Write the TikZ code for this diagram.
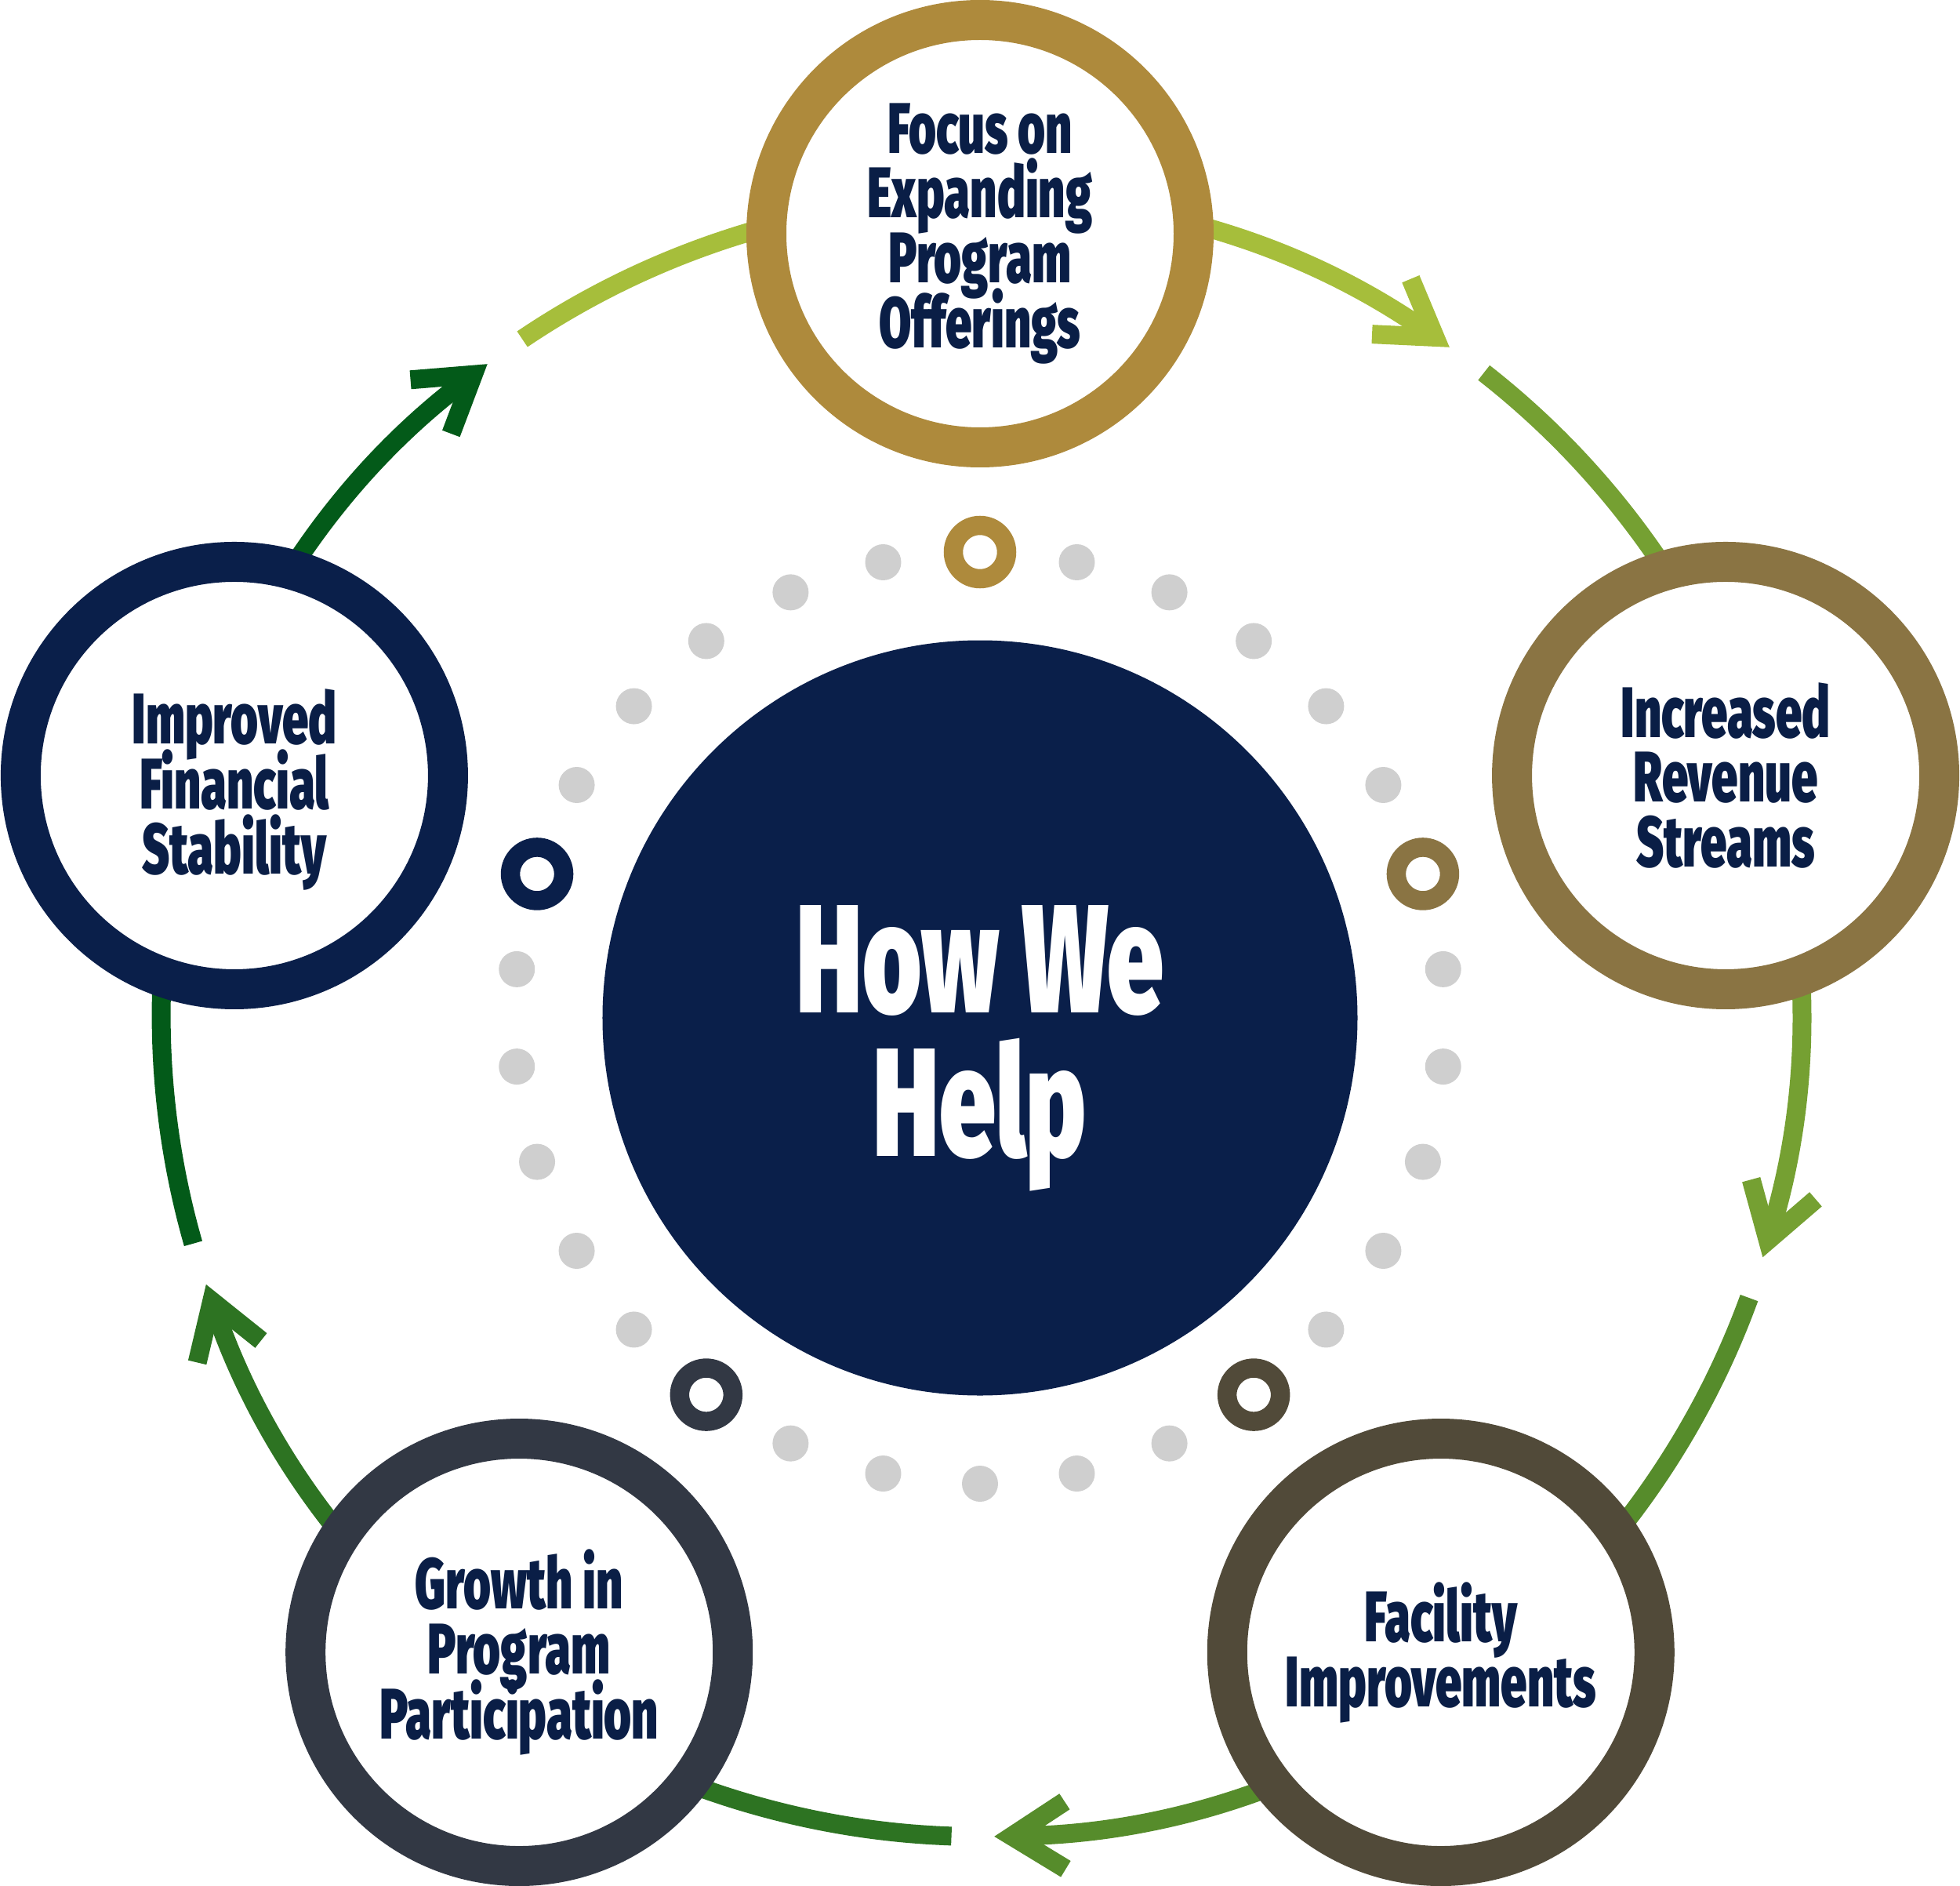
\documentclass[tikz,border=0pt]{standalone}
\usepackage{fontspec}
\setmainfont{Fira Sans}[UprightFont=* Black, FakeStretch=0.655]
\usetikzlibrary{arrows.meta}

\definecolor{navy}{HTML}{0A1F4A}
\definecolor{inkblue}{HTML}{0A1E46}
\definecolor{gold}{HTML}{AE8A3C}
\definecolor{bronze}{HTML}{8A7443}
\definecolor{umber}{HTML}{514A39}
\definecolor{slate}{HTML}{323844}
\definecolor{dotgray}{HTML}{CFCFCF}
\definecolor{greenA}{HTML}{A6BE3B}
\definecolor{greenB}{HTML}{75A032}
\definecolor{greenC}{HTML}{568C2B}
\definecolor{greenD}{HTML}{2D7322}
\definecolor{greenE}{HTML}{035A19}

\newcommand\tightlines{\lineskiplimit=-100pt\relax}

\begin{document}
\begin{tikzpicture}[main/.style = {circle, line width=0.51cm, fill=white, minimum size=5.45cm, inner sep=0pt, align=center, text=inkblue, font=\fontsize{26}{23.6}\selectfont\tightlines},
    flow/.style = {line width=0.24cm, -{Straight Barb[length=0.68cm, width=0.86cm, sharp]}},
    mini/.style = {line width=0.245cm}]
    \useasboundingbox (-12.5,-11.06) rectangle (12.5,12.98);
    % arcs between the steps
    \foreach \a/\c in {90/greenA, 18/greenB, -54/greenC, -126/greenD, 162/greenE}
        \draw[flow, \c] (\a+34:10.44) arc[start angle=\a+34, delta angle=-69, radius=10.44];
    % dotted ring
    \foreach \s in {18,90,162,234,306}
        \foreach \d in {12,24,36,48,60}
            \fill[dotgray] (\s+\d:5.94) circle (0.23);
    \foreach \a/\c in {90/gold, 18/bronze, -54/umber, -126/slate, 162/navy}
        \draw[mini, \c] (\a:5.94) circle (0.34);
    \node[circle, fill=navy, minimum size=9.63cm] (0) at (0,0) {};
    \node[text=white, align=center, font=\fontsize{56}{52}\selectfont\tightlines] (0t) at (0,-0.39) {How We\\Help};
    \node[main, draw=gold] (1) at (90:10) {Focus on\\Expanding\\Program\\Offerings};
    \node[main, draw=bronze] (2) at (18:10) {Increased\\Revenue\\Streams};
    \node[main, draw=umber] (3) at (-54:10) {Facility\\Improvements};
    \node[main, draw=slate] (4) at (-126:10) {Growth in\\Program\\Participation};
    \node[main, draw=navy] (5) at (162:10) {\rule{0pt}{1.05cm}Improved\\Financial\\Stability};
\end{tikzpicture}
\end{document}
